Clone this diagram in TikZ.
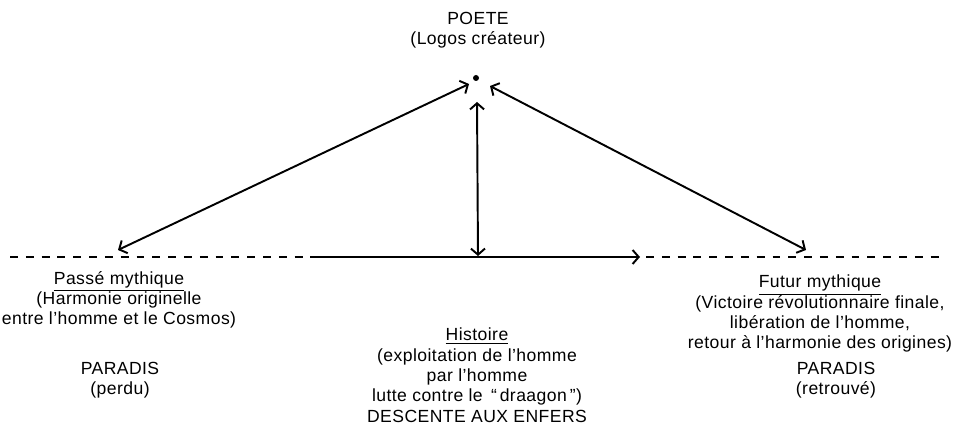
\documentclass[tikz,border=0pt]{standalone}
\usepackage{fontspec}
\setmainfont{Liberation Sans}[LetterSpace=2.5]
\usetikzlibrary{arrows.meta,positioning,calc}

\begin{document}
\begin{tikzpicture}[x=0.02cm,y=-0.02cm,
  lettre/.style={font=\fontsize{10}{11.6}\selectfont, inner sep=0pt, align=center, anchor=base},
  barbe/.tip={Straight Barb[length=3.5pt,width=8pt,line width=1.1pt]},
  fleche/.style={line width=1.1pt, barbe-barbe},
  pointille/.style={line width=1.2pt, dash pattern=on 4.5pt off 4.5pt}]
\useasboundingbox (0,0) rectangle (953,431);

\node[lettre] (poete) at (478,45) {POETE\\(Logos créateur)};
\fill (476,78) circle (3) coordinate (apex);

\coordinate (passe) at (118,250);
\coordinate (futur) at (806,250);
\coordinate (centre) at (478,256);
\coordinate (debut) at (10,257);
\coordinate (fin) at (945,257);

\draw[fleche] (passe) -- ($(apex)+(-7,6)$);
\draw[fleche] (futur) -- ($(apex)+(14,8)$);
\draw[fleche] (centre) -- ($(apex)+(1,24)$);

\draw[pointille] (debut) -- (315,257);
\draw[line width=1.2pt, -barbe] (315,257) -- (640,257) coordinate (pointe);
\draw[pointille] (pointe) ++(6,0) -- (fin);

\node[lettre] (mythe1) at (119,325) {\underline{Passé mythique}\\(Harmonie originelle\\entre l'homme et le Cosmos)};
\node[lettre] (perdu) at (120,395) {PARADIS\\(perdu)};
\node[lettre] (histoire) at (477,402) {\underline{Histoire}\\(exploitation de l'homme\\par l'homme\\lutte contre le \,“\,draagon\,”)};
\node[lettre] (enfers) at (477,423) {DESCENTE AUX ENFERS};
\node[lettre] (mythe2) at (820,349) {\underline{Futur mythique}\\(Victoire révolutionnaire finale,\\libération de l'homme,\\retour à l'harmonie des origines)};
\node[lettre] (retrouve) at (836,395) {PARADIS\\(retrouvé)};
\end{tikzpicture}
\end{document}
